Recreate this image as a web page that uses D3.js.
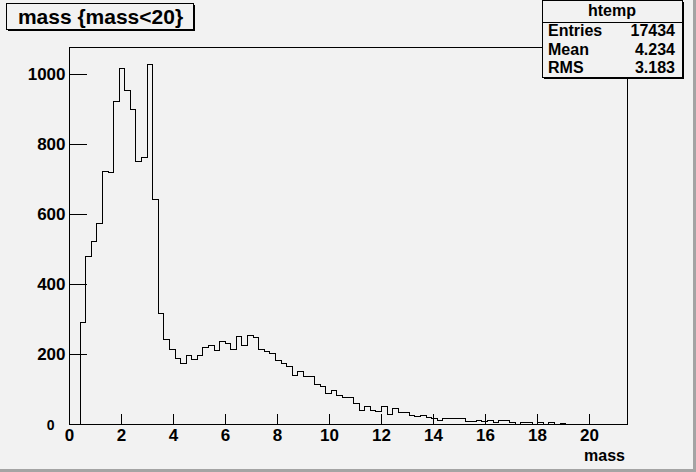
<!DOCTYPE html>
<html>
<head>
<meta charset="utf-8">
<script src="https://cdn.jsdelivr.net/npm/d3@7"></script>
<style>
  body { margin: 0; background: #f2f2f2; }
  svg { display: block; font-family: "Liberation Sans", Arial, sans-serif; font-weight: bold; }
</style>
</head>
<body>
<div id="chart"></div>
<script>
// histogram of mass, 100 bins from 0 to 21.46
const xMin = 0;
const xMax = 21.46;
const counts = [
  0, 0, 291, 478, 520, 573, 722, 719, 920, 1015,
  953, 898, 750, 760, 1026, 641, 316, 242, 213, 188,
  174, 196, 185, 196, 219, 225, 211, 236, 231, 213,
  250, 225, 253, 248, 213, 206, 202, 182, 174, 165,
  139, 150, 136, 136, 113, 108, 88, 96, 81, 75,
  77, 59, 39, 51, 39, 36, 51, 26, 45, 34,
  34, 24, 21, 24, 18, 15, 11, 15, 15, 15,
  15, 6, 6, 9, 6, 9, 3, 9, 9, 3,
  0, 4, 4, 0, 4, 0, 4, 0, 2, 0,
  0, 0, 0, 0, 0, 0, 0, 0, 0, 0
];
const xTicks = [0, 2, 4, 6, 8, 10, 12, 14, 16, 18, 20];
const yTicks = [0, 200, 400, 600, 800, 1000];
const yMax = 1077;

const title = "mass {mass<20}";
const xTitle = "mass";
const statsName = "htemp";
const statsRows = [["Entries", "17434"], ["Mean", "4.234"], ["RMS", "3.183"]];

const width = 696, height = 472;
const frame = { left: 69, right: 627, top: 47, bottom: 424 };

const svg = d3.select('#chart').append('svg')
  .attr('width', width)
  .attr('height', height);

svg.append('rect').attr('width', width).attr('height', height).attr('fill', '#f2f2f2');
// canvas bevel
svg.append('rect').attr('x', 0).attr('y', height - 3).attr('width', width).attr('height', 3).attr('fill', '#a4a4a4');
svg.append('rect').attr('x', width - 3).attr('y', 0).attr('width', 3).attr('height', height).attr('fill', '#a4a4a4');

const x = d3.scaleLinear().domain([xMin, xMax]).range([frame.left, frame.right]);
const y = d3.scaleLinear().domain([0, yMax]).range([frame.bottom, frame.top]);

const binW = (xMax - xMin) / counts.length;

// histogram outline
let pts = [[xMin, 0]];
counts.forEach((c, i) => {
  pts.push([xMin + i * binW, c]);
  pts.push([xMin + (i + 1) * binW, c]);
});
pts.push([xMax, 0]);

svg.append('path')
  .attr('d', d3.line().x(d => x(d[0])).y(d => y(d[1]))(pts))
  .attr('fill', 'none')
  .attr('stroke', '#000')
  .attr('stroke-width', 1)
  .attr('shape-rendering', 'crispEdges');

// frame
svg.append('rect')
  .attr('x', frame.left + 0.5).attr('y', frame.top + 0.5)
  .attr('width', frame.right - frame.left).attr('height', frame.bottom - frame.top)
  .attr('fill', 'none').attr('stroke', '#000');

// x axis
const minorX = d3.range(0, 21.5, 0.5).filter(v => v <= xMax);
const gx = svg.append('g').attr('transform', `translate(0,${frame.bottom + 0.5})`);
gx.call(d3.axisBottom(x).tickValues(minorX).tickSize(-6).tickFormat(''));
gx.call(d3.axisBottom(x).tickValues(xTicks).tickSize(-11).tickPadding(4).tickFormat(d3.format('d')));
gx.select('.domain').remove();
gx.selectAll('line').attr('stroke', '#000').attr('shape-rendering', 'crispEdges');
gx.selectAll('text').attr('font-size', 17).attr('fill', '#000').attr('font-family', null);

// y axis
const minorY = d3.range(0, 1076, 50);
const gy = svg.append('g').attr('transform', `translate(${frame.left + 0.5},0)`);
gy.call(d3.axisLeft(y).tickValues(minorY).tickSize(-9).tickFormat(''));
gy.call(d3.axisLeft(y).tickValues(yTicks).tickSize(-17).tickPadding(4).tickFormat(d3.format('d')));
gy.select('.domain').remove();
gy.selectAll('line').attr('stroke', '#000').attr('shape-rendering', 'crispEdges');
gy.selectAll('text').attr('font-size', 17).attr('fill', '#000').attr('font-family', null);
// shift the y zero label so it clears the x zero
gy.selectAll('.tick text').filter(d => d === 0)
  .attr('x', -15).attr('dy', '0.38em').attr('font-size', 14);

// x axis title
svg.append('text')
  .attr('x', 625).attr('y', 461)
  .attr('text-anchor', 'end')
  .attr('font-size', 16)
  .text(xTitle);

// title box with shadow
const tb = { x: 6, y: 3, w: 187, h: 26 };
svg.append('rect').attr('x', tb.x + 2).attr('y', tb.y + 2).attr('width', tb.w).attr('height', tb.h).attr('fill', '#000');
svg.append('rect').attr('x', tb.x + 0.5).attr('y', tb.y + 0.5).attr('width', tb.w).attr('height', tb.h)
  .attr('fill', '#f2f2f2').attr('stroke', '#000');
svg.append('text')
  .attr('x', tb.x + tb.w / 2 + 1).attr('y', 24)
  .attr('text-anchor', 'middle')
  .attr('font-size', 21)
  .text(title);

// stats box
const sb = { x: 542, y: 0, w: 140, h: 77 };
svg.append('rect').attr('x', sb.x + 2).attr('y', sb.y + 2).attr('width', sb.w).attr('height', sb.h).attr('fill', '#000');
svg.append('rect').attr('x', sb.x + 0.5).attr('y', sb.y + 0.5).attr('width', sb.w).attr('height', sb.h)
  .attr('fill', '#f2f2f2').attr('stroke', '#000');
svg.append('line')
  .attr('x1', sb.x).attr('x2', sb.x + sb.w)
  .attr('y1', 22.5).attr('y2', 22.5)
  .attr('stroke', '#000');
svg.append('text')
  .attr('x', sb.x + sb.w / 2).attr('y', 16)
  .attr('text-anchor', 'middle')
  .attr('font-size', 16)
  .text(statsName);
statsRows.forEach((r, i) => {
  const by = 36 + i * 18.5;
  svg.append('text').attr('x', 548).attr('y', by).attr('font-size', 16).text(r[0]);
  svg.append('text').attr('x', 675).attr('y', by).attr('text-anchor', 'end').attr('font-size', 16).text(r[1]);
});
</script>
</body>
</html>
